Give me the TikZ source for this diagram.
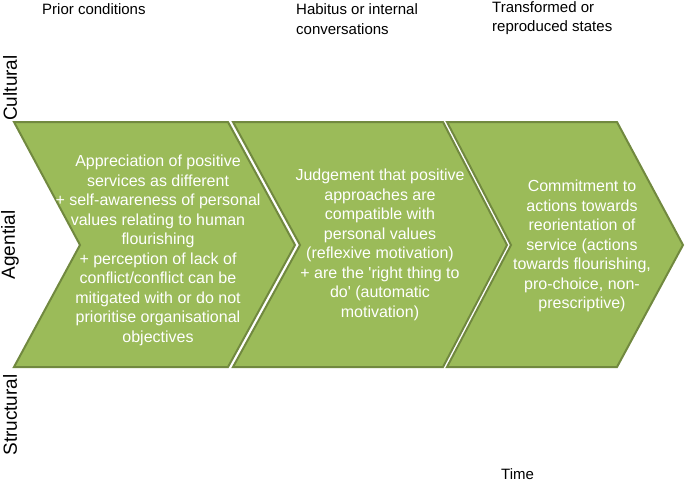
\documentclass[tikz,border=0pt]{standalone}
\usepackage{fontspec}
\setmainfont{Liberation Sans}[Ligatures=TeXOff]
\usepackage{xcolor}
\usepackage{tikz}
\usetikzlibrary{positioning}

\definecolor{chevfill}{HTML}{9BBB59}
\definecolor{chevline}{HTML}{71893F}

\begin{document}
\begin{tikzpicture}[
            x=1pt, y=-1pt,
            chev/.style={draw=chevline, fill=chevfill, line width=2pt, line join=miter},
            inner/.style={text=white, align=center, inner sep=0pt, font=\fontsize{16}{19.5}\selectfont},
            head/.style={anchor=north west, align=left, inner sep=0pt, font=\fontsize{15}{19.5}\selectfont},
            side/.style={rotate=90, inner sep=0pt, font=\fontsize{19}{22}\selectfont}
        ]
            \useasboundingbox (0,0) rectangle (685,482);

            % --- HEADINGS ---
            \node[head] (prior) at (42,3.5) {Prior conditions};
            \node[head] (habitus) at (296,3.5) {Habitus or internal\\conversations};
            \node[head] (states) at (492,1) {Transformed or\\reproduced states};

            % --- SIDE LABELS ---
            \node[side] (cultural) at (10,88) {Cultural};
            \node[side] (agential) at (10,245) {Agential};
            \node[side] (structural) at (10,415) {Structural};

            % --- CHEVRONS ---
            \draw[chev] (14,122) -- (228,122) -- (295,245) -- (228,367) -- (14,367) -- (80,245) -- cycle;
            \draw[chev] (233,122) -- (443,122) -- (507,245) -- (443,367) -- (233,367) -- (300,245) -- cycle;
            \draw[chev] (447,122) -- (617,122) -- (683,245) -- (617,367) -- (447,367) -- (511,245) -- cycle;

            \node[inner] (prior_txt) at (158,250.5) {Appreciation of positive\\services as different\\+ self-awareness of personal\\values relating to human\\flourishing\\+ perception of lack of\\conflict/conflict can be\\mitigated with or do not\\prioritise organisational\\objectives};
            \node[inner] (habitus_txt) at (380,245) {Judgement that positive\\approaches are\\compatible with\\personal values\\(reflexive motivation)\\+ are the 'right thing to\\do' (automatic\\motivation)};
            \node[inner] (states_txt) at (582,246) {Commitment to\\actions towards\\reorientation of\\service (actions\\towards flourishing,\\pro-choice, non-\\prescriptive)};

            % --- TIME ---
            \node[head] (time) at (501,468) {Time};

        \end{tikzpicture}
\end{document}
